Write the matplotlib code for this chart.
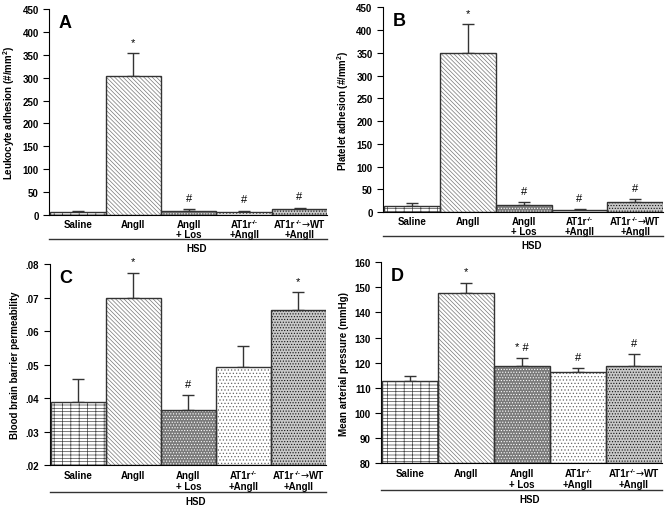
import numpy as np
import matplotlib
matplotlib.use("Agg")
import matplotlib.pyplot as plt
from matplotlib.ticker import FuncFormatter
from matplotlib.transforms import ScaledTranslation

plt.rcParams['font.family'] = ['Liberation Sans', 'DejaVu Sans']
plt.rcParams['font.weight'] = 'bold'
plt.rcParams['hatch.linewidth'] = 0.5
plt.rcParams['mathtext.fontset'] = 'custom'
plt.rcParams['mathtext.rm'] = 'Liberation Sans'
plt.rcParams['mathtext.bf'] = 'Liberation Sans:bold'
plt.rcParams['mathtext.default'] = 'bf'

# first label line split into pieces: (text, is_superscript)
line1 = [
    [("Saline", False)],
    [("AngII", False)],
    [("AngII", False)],
    [("AT1r", False), ("-/-", True)],
    [("AT1r", False), ("-/-", True), ("\u2192", False), ("WT", False)],
]
line2 = ["", "", "+ Los", "+AngII", "+AngII"]

# panel A: leukocyte adhesion
leuk = [6, 304, 9.5, 6, 13]
leuk_err = [3, 50, 3.5, 3.5, 3]
leuk_mark = ["", "*", "#", "#", "#"]

# panel B: platelet adhesion
plat = [14.5, 350, 16.5, 4.3, 23]
plat_err = [5, 62, 6, 2.2, 5]
plat_mark = ["", "*", "#", "#", "#"]

# panel C: BBB permeability
bbb = [0.0389, 0.0700, 0.0364, 0.0494, 0.0663]
bbb_err = [0.0067, 0.0075, 0.0046, 0.0061, 0.0054]
bbb_mark = ["", "*", "#", "", "*"]

# panel D: mean arterial pressure
map_ = [112.8, 147.9, 118.8, 116.1, 118.8]
map_err = [1.8, 4.0, 2.9, 1.7, 4.5]
map_mark = ["", "*", "* #", "#", "#"]

styles = [
    dict(face="white", hatch="-----||", hcol="#444444"),
    dict(face="white", hatch="\\\\\\\\\\\\\\\\", hcol="#777777"),
    dict(face="#7a7a7a", hatch="......", hcol="white"),
    dict(face="white", hatch=".....", hcol="#666666"),
    dict(face="#c8c8c8", hatch="......", hcol="#111111"),
]

fig = plt.figure(figsize=(6.72, 5.10), dpi=100)


def shift(ax, dx_px, dy_px):
    return ax.transAxes + ScaledTranslation(dx_px / 100.0, -dy_px / 100.0, fig.dpi_scale_trans)


def group_label(ax, xf, down, pieces):
    r = fig.canvas.get_renderer()
    texts = []
    for s, sup in pieces:
        if s == "\u2192":
            t = ax.text(0, 0, s, fontsize=7, family="DejaVu Sans", fontweight="normal")
        else:
            t = ax.text(0, 0, s, fontsize=4.5 if sup else 7, fontweight="bold")
        texts.append((t, sup))
    widths = [t.get_window_extent(r).width for t, _ in texts]
    x0 = -sum(widths) / 2.0
    for (t, sup), w in zip(texts, widths):
        t.set_transform(shift(ax, x0, down - (4 if sup else 0)))
        t.set_position((xf, 0))
        t.set_ha("left")
        t.set_va("baseline")
        x0 += w


def panel(rect, vals, errs, marks, ylim, step, ylabel, letter, fmt=None, gap=0):
    ax = fig.add_axes(rect)
    x = np.arange(len(vals))
    base = ylim[0]
    for i, v in enumerate(vals):
        st = styles[i]
        ax.bar(x[i], v - base, bottom=base, width=1.0, color=st["face"],
               edgecolor=st["hcol"], hatch=st["hatch"], linewidth=0, zorder=2)
        ax.bar(x[i], v - base, bottom=base, width=1.0, color="none",
               edgecolor="#333333", linewidth=1.0, zorder=3)
    ax.errorbar(x, vals, yerr=[np.zeros(len(errs)), errs], fmt="none",
                ecolor="#333333", elinewidth=1.0, capsize=4.5, capthick=1.0, zorder=1)
    span = ylim[1] - ylim[0]
    for i, m in enumerate(marks):
        if m:
            ax.text(x[i], vals[i] + errs[i] + span * 0.03, m, ha="center",
                    va="bottom", fontsize=8, fontweight="normal")
    ax.set_xlim(-0.52, 4.5)
    ax.set_ylim(*ylim)
    ax.set_yticks(np.arange(ylim[0], ylim[1] + step / 2, step))
    if fmt:
        ax.yaxis.set_major_formatter(FuncFormatter(fmt))
    ax.set_xticks([])
    ax.tick_params(axis="y", labelsize=7, length=4, direction="out")
    for lab in ax.get_yticklabels():
        lab.set_fontweight("bold")
    ax.spines["top"].set_visible(False)
    ax.spines["right"].set_visible(False)
    ax.set_ylabel(ylabel, fontsize=7, fontweight="bold")

    # group labels under the bars
    xfrac = (x + 0.52) / 5.02
    for i in range(len(x)):
        group_label(ax, xfrac[i], 12 + gap, line1[i])
        if line2[i]:
            ax.text(xfrac[i], 0, line2[i], transform=shift(ax, 0, 22 + gap * 2),
                    ha="center", va="baseline", fontsize=7, fontweight="bold")
    ax.plot([0.0, 1.0], [0, 0], transform=shift(ax, 0, 24 + gap * 3),
            color="#333333", linewidth=1.0, clip_on=False)
    ax.text(0.53, 0, "HSD", transform=shift(ax, 0, 36 + gap * 3),
            ha="center", va="baseline", fontsize=7, fontweight="bold")
    ax.text(0.035, 0.975, letter, transform=ax.transAxes, ha="left", va="top",
            fontsize=13, fontweight="bold")
    return ax


panel([0.073, 0.5765, 0.414, 0.404], leuk, leuk_err, leuk_mark, (0, 450), 50,
      "Leukocyte adhesion (#/mm$^2$)", "A")
panel([0.570, 0.582, 0.417, 0.402], plat, plat_err, plat_mark, (0, 450), 50,
      "Platelet adhesion (#/mm$^2$)", "B")
panel([0.074, 0.086, 0.411, 0.394], bbb, bbb_err, bbb_mark, (0.02, 0.08), 0.01,
      "Blood brain barrier permeability", "C",
      fmt=lambda v, p: ("%.2f" % v)[1:], gap=1)
panel([0.567, 0.090, 0.418, 0.394], map_, map_err, map_mark, (80, 160), 10,
      "Mean arterial pressure (mmHg)", "D", gap=1)

fig.savefig("out.png", dpi=100)
